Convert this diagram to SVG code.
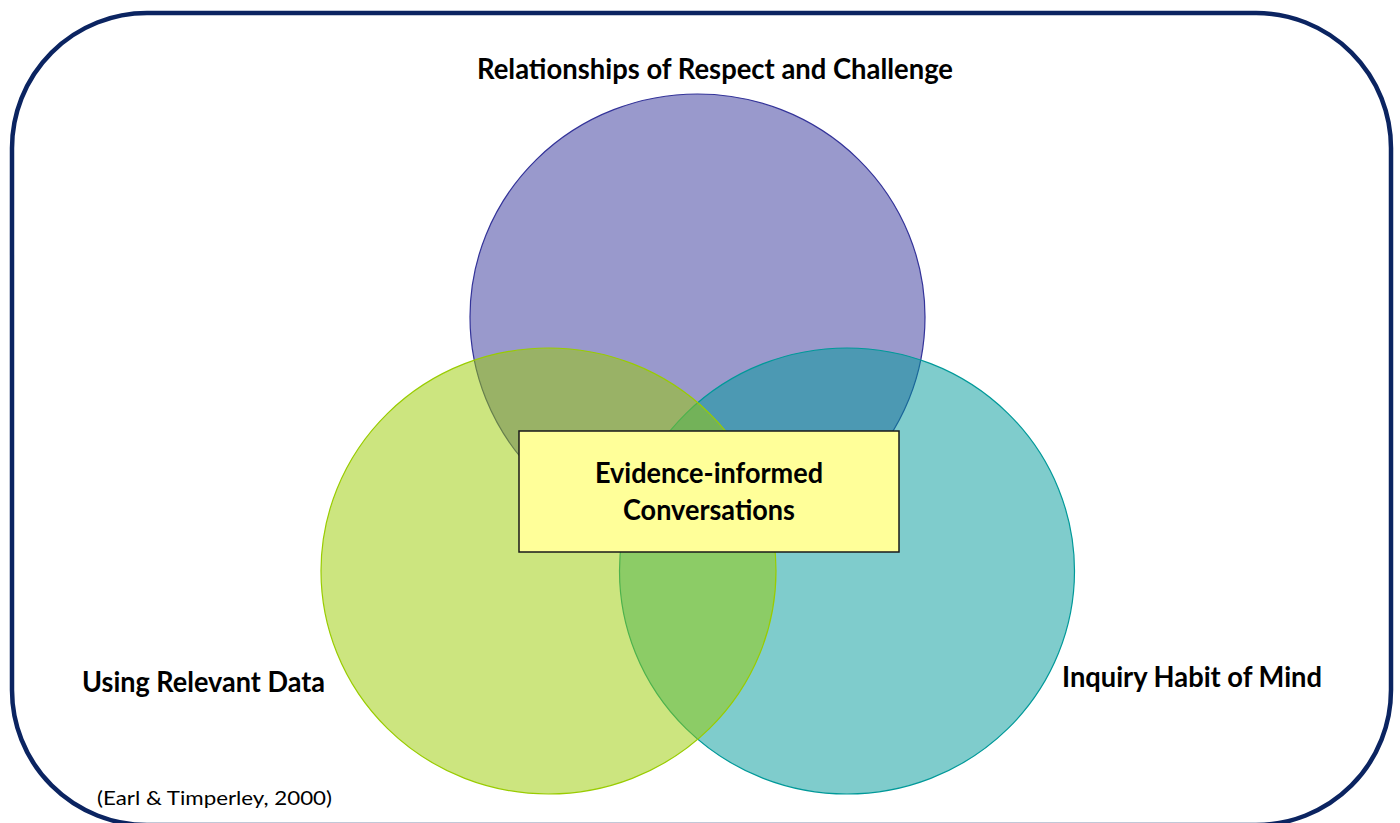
<svg xmlns="http://www.w3.org/2000/svg" width="1400" height="823" viewBox="0 0 1400 823">
  <style>
    .lbl { font-family: Lato, "Open Sans", "Liberation Sans", sans-serif; font-weight: bold; font-size: 28px; fill: #000; }
    .cite { font-family: Lato, "Open Sans", "Liberation Sans", sans-serif; font-size: 20px; fill: #000; }
    .circ { fill-opacity: 0.5; stroke-width: 1.2; }
  </style>
  <rect width="1400" height="823" fill="#ffffff"/>
  <rect id="frame" x="12" y="13" width="1379" height="812" rx="135" ry="135" fill="none" stroke="#0b2461" stroke-width="4.5"/>
  <g id="circle-respect">
    <ellipse class="circ" cx="697.5" cy="317" rx="227.5" ry="223" fill="#333399" stroke="#333399"/>
  </g>
  <g id="circle-inquiry">
    <ellipse class="circ" cx="847" cy="571" rx="227.5" ry="223" fill="#009999" stroke="#009999"/>
  </g>
  <g id="circle-data">
    <ellipse class="circ" cx="548.5" cy="571" rx="227.5" ry="223" fill="#99cc00" stroke="#99cc00"/>
  </g>
  <g id="connectors"></g>
  <g id="center-box">
    <rect x="519" y="431" width="380" height="121" fill="#ffff99" stroke="#1a1a1a" stroke-width="1.5"/>
    <text class="lbl" x="709" y="483" text-anchor="middle" textLength="228" lengthAdjust="spacingAndGlyphs">Evidence-informed</text>
    <text class="lbl" x="709" y="520" text-anchor="middle" textLength="172" lengthAdjust="spacingAndGlyphs">Conversations</text>
  </g>
  <g id="label-respect">
    <text class="lbl" x="715" y="79" text-anchor="middle" textLength="476" lengthAdjust="spacingAndGlyphs">Relationships of Respect and Challenge</text>
  </g>
  <g id="label-data">
    <text class="lbl" x="82" y="692" textLength="243" lengthAdjust="spacingAndGlyphs">Using Relevant Data</text>
  </g>
  <g id="label-inquiry">
    <text class="lbl" x="1062" y="687" textLength="260" lengthAdjust="spacingAndGlyphs">Inquiry Habit of Mind</text>
  </g>
  <g id="citation">
    <text class="cite" x="97" y="805" textLength="235" lengthAdjust="spacingAndGlyphs">(Earl &amp; Timperley, 2000)</text>
  </g>
</svg>
